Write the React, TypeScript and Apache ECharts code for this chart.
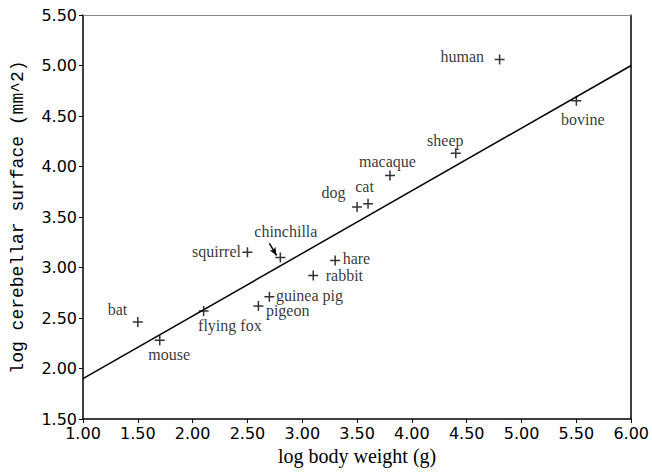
import React, { useEffect, useRef } from "react";
import * as echarts from "echarts";

// Data
const animals = ["bat", "mouse", "flying fox", "squirrel", "pigeon", "guinea pig", "chinchilla", "rabbit", "hare", "dog", "cat", "macaque", "sheep", "human", "bovine"];
const logBodyWeight = [1.5, 1.7, 2.1, 2.5, 2.6, 2.7, 2.8, 3.1, 3.3, 3.5, 3.6, 3.8, 4.4, 4.8, 5.5];
const logCerebellarSurface = [2.46, 2.28, 2.57, 3.15, 2.62, 2.71, 3.1, 2.92, 3.07, 3.6, 3.63, 3.91, 4.13, 5.06, 4.65];
const fitX = [1.0, 6.0];
const fitY = [1.9, 5.0];
const arrowFrom = [2.7, 3.24];
const arrowTo = [2.765, 3.12];
const xTicks = { min: 1.0, max: 6.0, step: 0.5 };
const yTicks = { min: 1.5, max: 5.5, step: 0.5 };

// Label placement (anchor alignment + offset in px from the marker) — layout only
type Place = { align: "left" | "right" | "center"; dx: number; dy: number };
const labelPlace: Record<string, Place> = {
  bat: { align: "right", dx: -8, dy: -10 },
  mouse: { align: "left", dx: -9, dy: 17 },
  "flying fox": { align: "left", dx: -3, dy: 17 },
  squirrel: { align: "right", dx: -4, dy: 2 },
  pigeon: { align: "left", dx: 10, dy: 7 },
  "guinea pig": { align: "left", dx: 9, dy: 1 },
  chinchilla: { align: "center", dx: 8, dy: -23 },
  rabbit: { align: "left", dx: 15, dy: 2 },
  hare: { align: "left", dx: 10, dy: 1 },
  dog: { align: "right", dx: -9, dy: -12 },
  cat: { align: "center", dx: -1, dy: -15 },
  macaque: { align: "center", dx: 0, dy: -12 },
  sheep: { align: "center", dx: -8, dy: -10 },
  human: { align: "right", dx: -13, dy: 0 },
  bovine: { align: "center", dx: 9, dy: 21 },
};

export default function App() {
  const ref = useRef<HTMLDivElement>(null);
  useEffect(() => {
    if (!ref.current) return;
    const chart = echarts.init(ref.current, undefined, { renderer: "svg" });
    const SYM = 10;
    const scatterData = animals.map((name, i) => {
      const p = labelPlace[name] || { align: "center", dx: 0, dy: 0 };
      return {
        name,
        value: [logBodyWeight[i], logCerebellarSurface[i]],
        label: {
          show: true,
          formatter: name,
          position: [SYM / 2 + p.dx, SYM / 2 + p.dy],
          align: p.align,
          verticalAlign: "middle",
        },
      };
    });
    const tickFmt = (v: number) => v.toFixed(2);
    chart.setOption({
      animation: false,
      backgroundColor: "#ffffff",
      grid: { left: 83, right: 19, top: 15, bottom: 53, containLabel: false },
      xAxis: [
        {
          type: "value",
          min: xTicks.min,
          max: xTicks.max,
          interval: xTicks.step,
          name: "log body weight (g)",
          nameLocation: "middle",
          nameGap: 27,
          nameTextStyle: { fontFamily: "Liberation Serif", fontSize: 20, color: "#000" },
          axisLine: { show: true, lineStyle: { color: "#000", width: 1.5 } },
          axisTick: { show: true, length: 4, lineStyle: { color: "#000" } },
          axisLabel: { formatter: tickFmt, fontFamily: "DejaVu Sans", fontSize: 16, color: "#000", margin: 6 },
          splitLine: { show: false },
        },
        {
          type: "value",
          position: "top",
          min: xTicks.min,
          max: xTicks.max,
          axisLine: { show: true, lineStyle: { color: "#888", width: 1 } },
          axisTick: { show: false },
          axisLabel: { show: false },
          splitLine: { show: false },
        },
      ],
      yAxis: [
        {
          type: "value",
          min: yTicks.min,
          max: yTicks.max,
          interval: yTicks.step,
          name: "log cerebellar surface (mm^2)",
          nameLocation: "middle",
          nameGap: 56,
          nameTextStyle: { fontFamily: "Liberation Mono", fontSize: 18, color: "#000" },
          axisLine: { show: true, lineStyle: { color: "#000", width: 1.5 } },
          axisTick: { show: true, length: 4, lineStyle: { color: "#000" } },
          axisLabel: { formatter: tickFmt, fontFamily: "DejaVu Sans", fontSize: 16, color: "#000", margin: 6 },
          splitLine: { show: false },
        },
        {
          type: "value",
          position: "right",
          min: yTicks.min,
          max: yTicks.max,
          axisLine: { show: true, lineStyle: { color: "#000", width: 1.5 } },
          axisTick: { show: false },
          axisLabel: { show: false },
          splitLine: { show: false },
        },
      ],
      series: [
        {
          type: "line",
          data: fitX.map((x, i) => [x, fitY[i]]),
          symbol: "none",
          lineStyle: { color: "#000", width: 1.5 },
          silent: true,
          z: 2,
        },
        {
          type: "scatter",
          data: scatterData,
          symbol: "path://M0,5L10,5M5,0L5,10",
          symbolSize: SYM,
          itemStyle: { color: "none", borderColor: "#000", borderWidth: 1.5 },
          label: {
            fontFamily: "Liberation Serif",
            fontSize: 16,
            color: "#000",
          },
          emphasis: { disabled: true },
          z: 3,
          markLine: {
            silent: true,
            symbol: ["none", "arrow"],
            symbolSize: [5, 8],
            label: { show: false },
            lineStyle: { color: "#000", width: 1.5, type: "solid" },
            data: [[{ coord: arrowFrom }, { coord: arrowTo }]],
          },
        },
      ],
    });
    return () => chart.dispose();
  }, []);
  return <div ref={ref} style={{ width: 652, height: 472, position: "absolute", left: 0, top: 0 }} />;
}
